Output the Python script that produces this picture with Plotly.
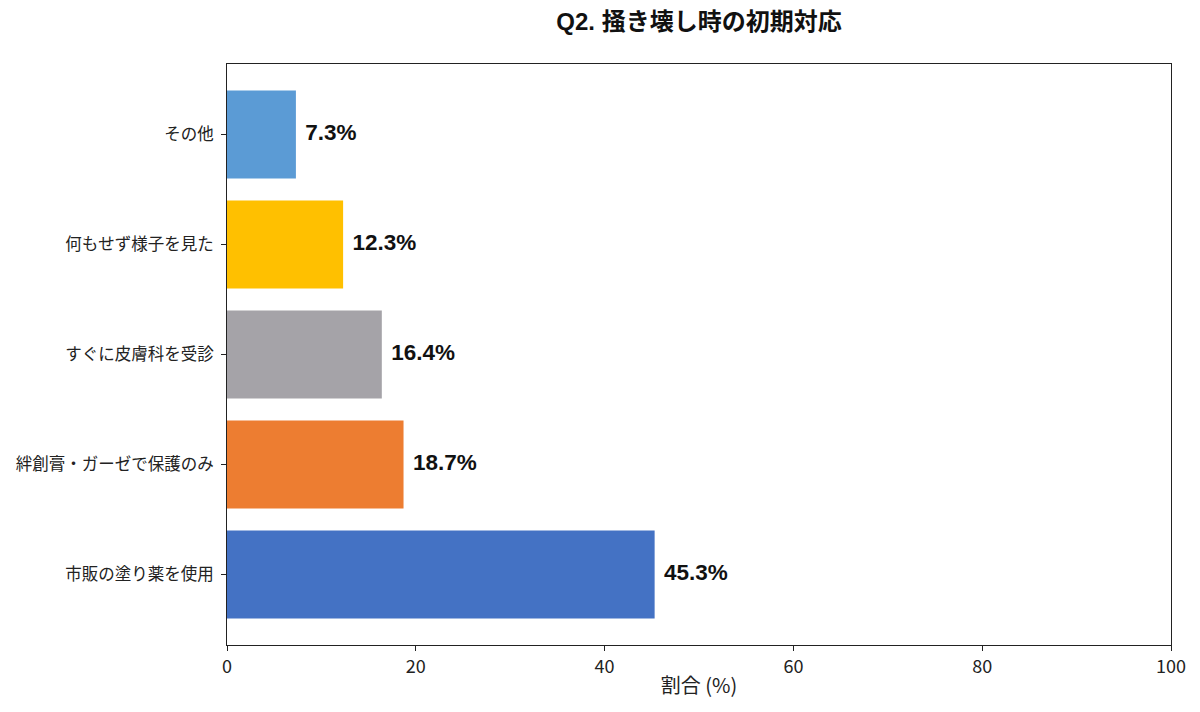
import plotly.graph_objects as go

categories = ["市販の塗り薬を使用", "絆創膏・ガーゼで保護のみ", "すぐに皮膚科を受診", "何もせず様子を見た", "その他"]
values = [45.3, 18.7, 16.4, 12.3, 7.3]
colors = ["#4472C4", "#ED7D31", "#A5A3A8", "#FFC000", "#5B9BD5"]
title = "Q2. 掻き壊し時の初期対応"
x_label = "割合 (%)"
x_ticks = [0, 20, 40, 60, 80, 100]

FONT = "Noto Sans CJK JP, Noto Sans, sans-serif"
BOLD = "Liberation Sans, Noto Sans CJK JP, sans-serif"

fig = go.Figure()
fig.add_trace(go.Bar(
    y=categories, x=values, orientation="h",
    marker=dict(color=colors, line=dict(width=0)),
    width=0.8, showlegend=False, hoverinfo="x+y",
))
fig.add_trace(go.Scatter(
    y=categories, x=[v + 1 for v in values], mode="text",
    text=[f"{v:.1f}%" for v in values], textposition="middle right",
    textfont=dict(family=BOLD, size=22.5, color="#111111", weight="bold"),
    showlegend=False, hoverinfo="skip", cliponaxis=False,
))

fig.update_layout(
    width=1200, height=712,
    margin=dict(l=227, r=29, t=64, b=67),
    paper_bgcolor="white", plot_bgcolor="white",
    font=dict(family=FONT, color="#222222"),
    title=dict(text=f"<b>{title}</b>", x=0.5, xref="paper", xanchor="center",
               y=1 - 22 / 712, yanchor="middle",
               font=dict(family=BOLD, size=24, color="#111111")),
)
fig.update_xaxes(
    range=[0, 100], tickvals=x_ticks, ticktext=[str(t) for t in x_ticks],
    ticks="outside", ticklen=5, tickwidth=1, tickcolor="#222222",
    showline=True, linecolor="#222222", linewidth=1, mirror=True,
    showgrid=False, zeroline=False,
    tickfont=dict(family=FONT, size=18, color="#222222"),
    title=dict(text=x_label, font=dict(family=FONT, size=20, color="#222222"), standoff=2),
)
fig.update_yaxes(
    range=[-0.64, 4.64], categoryorder="array", categoryarray=categories,
    ticks="outside", ticklen=5, tickwidth=1, tickcolor="#222222",
    showline=True, linecolor="#222222", linewidth=1, mirror=True,
    showgrid=False, zeroline=False, ticklabelstandoff=4,
    tickfont=dict(family=FONT, size=16.5, color="#222222"),
)

fig.write_html("out.html")
